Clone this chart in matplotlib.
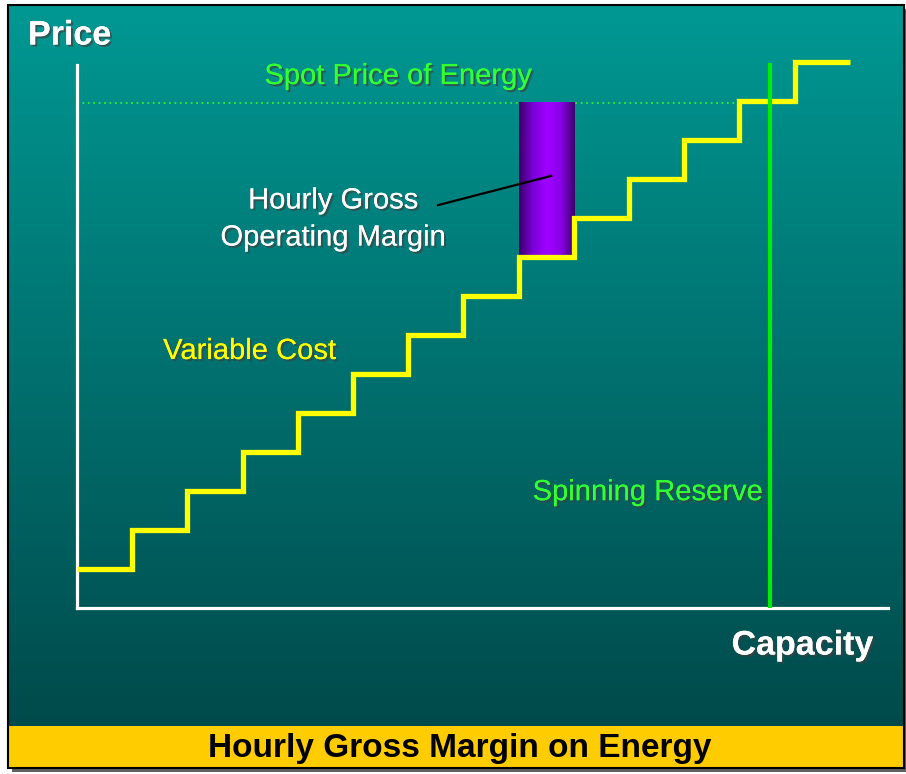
import numpy as np
import matplotlib
matplotlib.use('Agg')
import matplotlib.pyplot as plt
from matplotlib import patheffects
from matplotlib.colors import LinearSegmentedColormap
from matplotlib.patches import Rectangle

# data (capacity blocks and their variable cost levels)
step_edges = [0, 1, 2, 3, 4, 5, 6, 7, 8, 9, 10, 11, 12, 13, 14]
variable_cost = [1, 2, 3, 4, 5, 6, 7, 8, 9, 10, 11, 12, 13, 14]
spot_price = 12.95
spot_line_end = 12.1
spinning_reserve = 12.55
margin_block = 8

plt.rcParams['font.family'] = ['Liberation Sans', 'DejaVu Sans']

fig = plt.figure(figsize=(9.06, 7.74), dpi=100)

# background: framed slide with teal gradient
bg = fig.add_axes([0, 0, 1, 1])
bg.set_xlim(0, 906)
bg.set_ylim(774, 0)
bg.axis('off')
teal = LinearSegmentedColormap.from_list('teal', ['#009893', '#004a4b'])
grad = np.linspace(0, 1, 256).reshape(-1, 1)
bg.imshow(grad, cmap=teal, extent=[8, 904, 726, 5], aspect='auto', zorder=0)
bg.add_patch(Rectangle((12, 9), 896, 763, facecolor='#606060', edgecolor='none', zorder=-1))
bg.add_patch(Rectangle((8, 726), 896, 42, facecolor='#ffcc00', edgecolor='none', zorder=1))
bg.add_patch(Rectangle((8, 5), 896, 763, facecolor='none', edgecolor='black', lw=1.5, zorder=2))

shadow = [patheffects.withSimplePatchShadow(offset=(1.5, -1.5), shadow_rgbFace='#404040', alpha=0.7),
          patheffects.Normal()]

bg.text(28, 36, 'Price', color='white', fontsize=24.5, fontweight='bold', va='center', ha='left',
        path_effects=shadow, zorder=3)
bg.text(873, 646, 'Capacity', color='white', fontsize=24.5, fontweight='bold', va='center', ha='right',
        path_effects=shadow, zorder=3)
bg.text(460, 748, 'Hourly Gross Margin on Energy', color='black', fontsize=24, fontweight='bold',
        va='center', ha='center', zorder=3)

# plot area
ax = fig.add_axes([77 / 906, 1 - 608 / 774, 811 / 906, 553 / 774])
ax.set_xlim(0, 811 / 55.2)
ax.set_ylim(0, 553 / 39)
ax.patch.set_alpha(0)
for s in ['top', 'right']:
    ax.spines[s].set_visible(False)
for s in ['left', 'bottom']:
    ax.spines[s].set_color('white')
    ax.spines[s].set_linewidth(2.3)
ax.spines['left'].set_bounds(0, 13.92)
ax.set_xticks([])
ax.set_yticks([])

# spot price dotted line
ax.plot([0, spot_line_end], [spot_price, spot_price], color='#33ee33', lw=1.3, ls=(0, (1, 2)), zorder=2)

# gross margin bar with cylinder shading
purple = LinearSegmentedColormap.from_list('purple', ['#3a0068', '#7a00d8', '#a000ff', '#8a00e8', '#3a006a'])
hgrad = np.linspace(0, 1, 256).reshape(1, -1)
m_bottom = variable_cost[margin_block]
ax.imshow(hgrad, cmap=purple, extent=[step_edges[margin_block], step_edges[margin_block + 1],
                                       m_bottom, spot_price],
          aspect='auto', zorder=3)

# variable cost steps
ax.stairs(variable_cost, step_edges, baseline=None, color='#ffff00', lw=3.8, zorder=4)

# spinning reserve
ax.plot([spinning_reserve, spinning_reserve], [0, 13.92], color='#00ee00', lw=3, zorder=5)

# pointer from label to margin bar
ax.plot([6.54, 8.59], [10.33, 11.08], color='black', lw=1.6, zorder=6)

ax.text(5.82, 13.64, 'Spot Price of Energy', color='#33ff33', fontsize=21, ha='center', va='center',
        path_effects=shadow)
ax.text(4.64, 10.45, 'Hourly Gross', color='white', fontsize=21, ha='center', va='center',
        path_effects=shadow)
ax.text(4.64, 9.5, 'Operating Margin', color='white', fontsize=21, ha='center', va='center',
        path_effects=shadow)
ax.text(1.56, 6.59, 'Variable Cost', color='#ffff00', fontsize=21, ha='left', va='center',
        path_effects=shadow)
ax.text(12.42, 2.97, 'Spinning Reserve', color='#33ff33', fontsize=21, ha='right', va='center',
        path_effects=shadow)

fig.savefig('out.png', dpi=100)
